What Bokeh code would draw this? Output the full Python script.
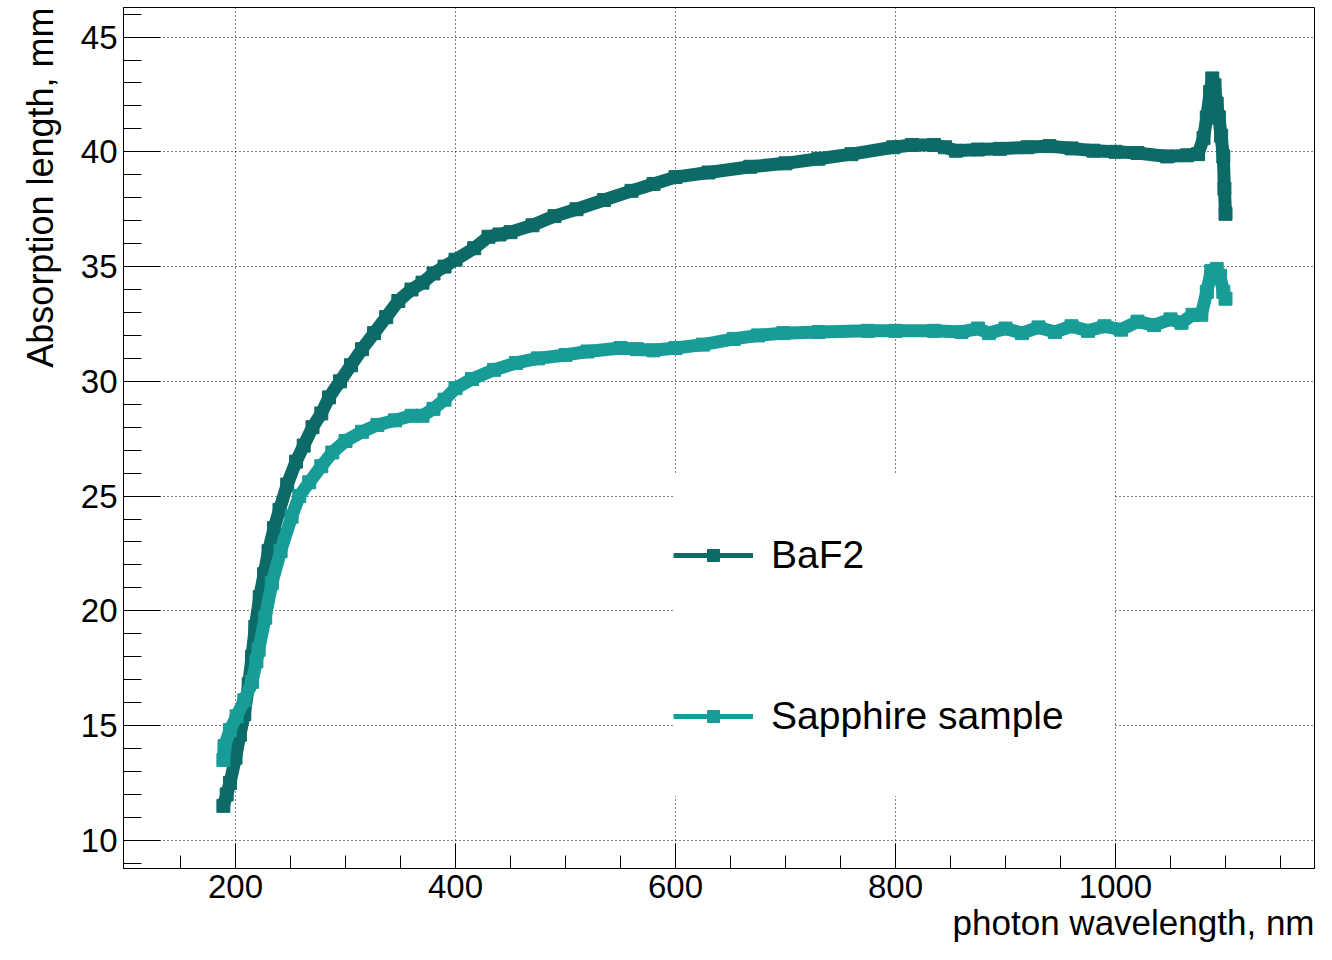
from bokeh.plotting import figure
from bokeh.models import Range1d, Legend, LegendItem, Title, FixedTicker
from bokeh.embed import file_html
from bokeh.resources import INLINE

# ---- data ----
baf2_nm = [189, 192, 195, 200, 204, 208, 212, 215, 218, 222, 226, 230, 235, 240, 247,
           255, 262, 270, 278, 285, 295, 305, 315, 326, 337, 348, 360, 370, 380, 390,
           400, 417, 430, 440, 450, 470, 490, 510, 535, 560, 580, 600, 630, 668, 700,
           730, 760, 798, 815, 835, 845, 855, 875, 895, 920, 940, 960, 980, 1000, 1020,
           1047, 1065, 1075, 1080, 1083, 1086, 1088, 1090, 1092, 1094, 1096, 1098, 1099, 1100]
baf2_len = [11.5, 12.0, 12.5, 13.6, 14.6, 15.5, 16.8, 18.0, 19.3, 20.6, 21.6, 22.6, 23.6, 24.4, 25.5,
            26.5, 27.2, 28.0, 28.6, 29.3, 30.0, 30.7, 31.4, 32.1, 32.8, 33.5, 34.0, 34.3, 34.7, 35.0,
            35.3, 35.8, 36.3, 36.4, 36.5, 36.8, 37.2, 37.5, 37.9, 38.3, 38.6, 38.9, 39.1, 39.35, 39.5,
            39.7, 39.9, 40.2, 40.3, 40.3, 40.2, 40.05, 40.1, 40.13, 40.2, 40.25, 40.15, 40.05, 40.0, 39.95,
            39.8, 39.85, 39.9, 40.6, 41.5, 42.6, 43.2, 42.9, 42.1, 41.5, 40.7, 39.8, 38.4, 37.3]

sap_nm = [189, 190, 195, 201, 208, 215, 219, 221, 227, 233, 241, 251, 258, 267, 278,
          288, 300, 315, 329, 345, 360, 370, 380, 390, 400, 415, 435, 455, 475, 500,
          520, 550, 565, 580, 600, 625, 653, 675, 698, 730, 775, 800, 835, 860, 875,
          885, 900, 915, 930, 945, 960, 975, 990, 1005, 1020, 1035, 1050, 1060, 1070, 1078,
          1083, 1087, 1092, 1095, 1098, 1100]
sap_len = [13.5, 14.1, 14.8, 15.4, 16.1, 16.9, 17.8, 18.3, 19.7, 21.2, 22.6, 24.1, 25.0, 25.6, 26.3,
           26.9, 27.4, 27.8, 28.1, 28.3, 28.5, 28.5, 28.8, 29.2, 29.7, 30.1, 30.5, 30.8, 31.0, 31.15,
           31.3, 31.45, 31.4, 31.35, 31.45, 31.6, 31.85, 32.0, 32.1, 32.15, 32.2, 32.2, 32.2, 32.15, 32.3,
           32.1, 32.3, 32.1, 32.35, 32.15, 32.4, 32.2, 32.4, 32.25, 32.6, 32.45, 32.7, 32.55, 32.9, 32.9,
           33.9, 34.8, 34.9, 34.6, 33.9, 33.6]

x_ticks = [200, 400, 600, 800, 1000]
x_minor = [150, 250, 300, 350, 450, 500, 550, 650, 700, 750, 850, 900, 950, 1050, 1100, 1150]
y_ticks = [10, 15, 20, 25, 30, 35, 40, 45]
y_minor = [9, 11, 12, 13, 14, 16, 17, 18, 19, 21, 22, 23, 24, 26, 27, 28, 29, 31, 32, 33, 34,
           36, 37, 38, 39, 41, 42, 43, 44, 46]

series_names = ["BaF2", "Sapphire sample"]
series_colors = ["#0d6b67", "#189c98"]

FONT = "Liberation Sans"

p = figure(width=1316, height=944, output_backend="svg", toolbar_location=None,
           x_range=Range1d(98.18, 1180.9), y_range=Range1d(8.77, 46.29),
           min_border_left=123, min_border_right=2, min_border_top=7, min_border_bottom=76)
p.background_fill_color = "white"
p.border_fill_color = "white"
p.outline_line_color = "black"
p.outline_line_width = 1

# axes
p.xaxis.ticker = FixedTicker(ticks=x_ticks, minor_ticks=x_minor)
p.yaxis.ticker = FixedTicker(ticks=y_ticks, minor_ticks=y_minor)
for ax in (p.xaxis[0], p.yaxis[0]):
    ax.axis_line_color = "black"
    ax.axis_line_width = 1
    ax.major_tick_line_color = "black"
    ax.minor_tick_line_color = "black"
    ax.major_tick_out = 0
    ax.minor_tick_out = 0
    ax.major_label_text_font = FONT
    ax.major_label_text_font_size = "33px"
    ax.major_label_text_color = "black"
p.xaxis.major_tick_in = 25
p.xaxis.minor_tick_in = 13
p.yaxis.major_tick_in = 37
p.yaxis.minor_tick_in = 18
p.xaxis.major_label_standoff = 6
p.yaxis.major_label_standoff = 6

for g in (p.xgrid[0], p.ygrid[0]):
    g.grid_line_color = "black"
    g.grid_line_dash = "1 3"
    g.grid_line_width = 1

# series
nan = float("nan")
renderers = []
for nm, vals, col in [(baf2_nm, baf2_len, series_colors[0]), (sap_nm, sap_len, series_colors[1])]:
    p.line(nm, vals, line_color=col, line_width=13, line_join="round", line_cap="round")
    p.scatter(nm, vals, marker="square", size=13, fill_color=col, line_color=col)
    # legend proxies (thin line + square marker, like the reference key)
    lr = p.line([nan, nan], [nan, nan], line_color=col, line_width=5)
    sr = p.scatter([nan], [nan], marker="square", size=13, fill_color=col, line_color=col)
    renderers.append([lr, sr])

legend = Legend(items=[LegendItem(label=series_names[i], renderers=renderers[i]) for i in range(2)],
                location=(550, 72), orientation="vertical",
                label_text_font=FONT, label_text_font_size="39px", label_text_color="black",
                glyph_width=80, glyph_height=30, label_standoff=18, label_width=343,
                label_height=161, padding=0, spacing=0,
                border_line_color=None, background_fill_color="white", background_fill_alpha=1.0)
p.add_layout(legend, "center")

# axis titles (ROOT style: aligned to the end of the axis)
p.add_layout(Title(text="photon wavelength, nm", align="right", text_font=FONT,
                   text_font_size="35px", text_font_style="normal", text_color="black",
                   standoff=0), "below")
p.add_layout(Title(text="Absorption length, mm", align="right", text_font=FONT,
                   text_font_size="36px", text_font_style="normal", text_color="black",
                   standoff=33), "left")

open("out.html", "w").write(file_html(p, INLINE))
